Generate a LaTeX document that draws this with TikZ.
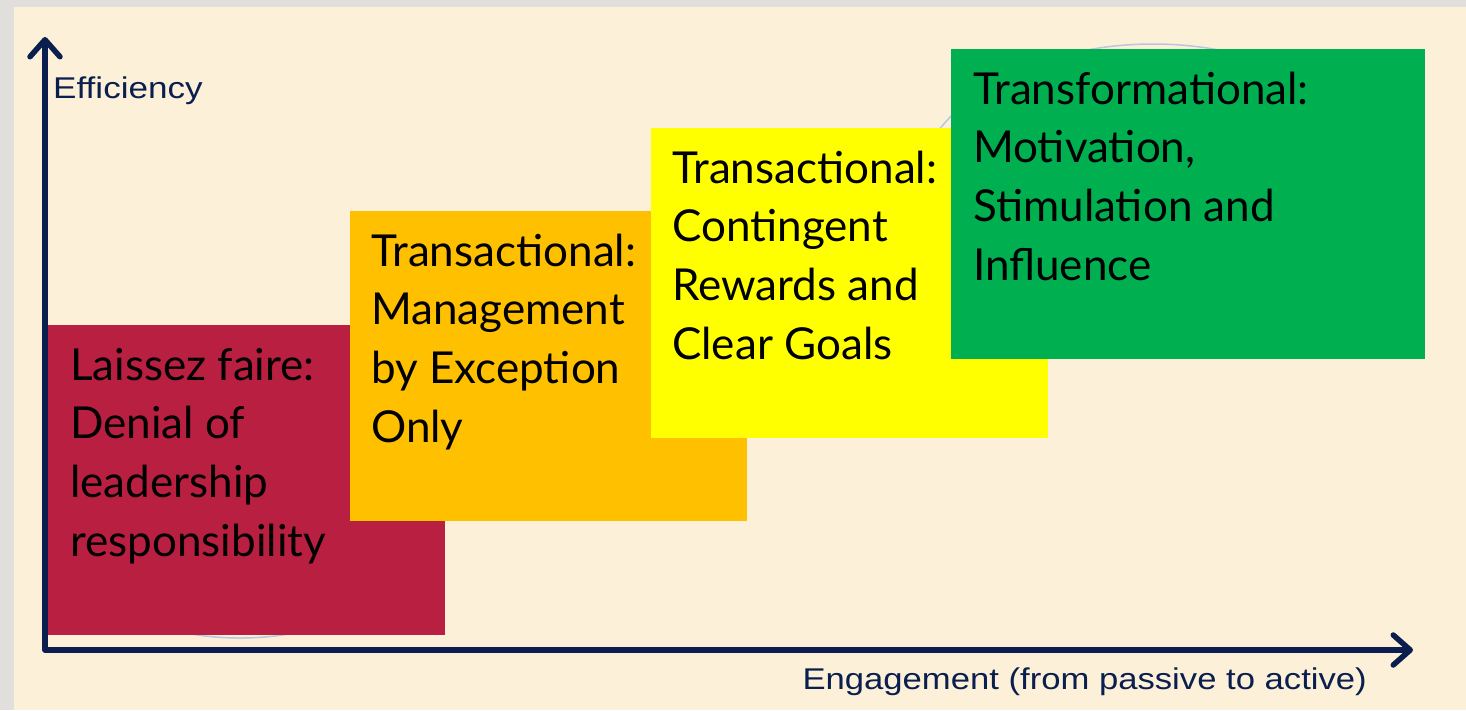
\documentclass[tikz,border=0pt]{standalone}
\usepackage{fontspec}
\setmainfont{Lato}
\newfontfamily\axisfont{Liberation Sans}
\usetikzlibrary{arrows.meta}
\definecolor{paper}{HTML}{FCF1D8}
\definecolor{frame}{HTML}{E0DFDC}
\definecolor{navy}{HTML}{0B1F4F}
\definecolor{lfred}{HTML}{B81F40}
\definecolor{mbeorange}{HTML}{FFC000}
\definecolor{cryellow}{HTML}{FFFF00}
\definecolor{tfgreen}{HTML}{00B050}
\definecolor{halo}{HTML}{B9C6E0}
\begin{document}
\begin{tikzpicture}[x=1pt,y=-1pt,
  axis/.style={draw=navy,line width=5.5pt,line join=round,
    {Straight Barb[length=17pt,width=30pt,line cap=round,line join=round]}-{Straight Barb[length=17pt,width=30pt,line cap=round,line join=round]}},
  axislabel/.style={font=\axisfont\fontsize{30}{34}\selectfont,text=navy,inner sep=0pt},
  stylebox/.style={rectangle,inner sep=0pt,outer sep=0pt,anchor=north west,
    minimum width=397pt,minimum height=310pt},
  boxtext/.style={inner sep=0pt,anchor=base west,text=black},
  halo/.style={draw=halo,line width=1.5pt}]
  % page and grey frame strips
  \fill[paper] (0,0) rectangle (1466,710);
  \fill[frame] (0,0) rectangle (14,710);
  \fill[frame] (0,0) rectangle (1466,7);
  \useasboundingbox (0,0) rectangle (1466,710);

  % faint ellipses lying under the boxes
  \draw[halo] (240,518) ellipse [x radius=190,y radius=120];
  \draw[halo] (1153,201) ellipse [x radius=240,y radius=157];

  % axes
  \coordinate (ytop) at (45,37);
  \coordinate (origin) at (45,650);
  \coordinate (xend) at (1413,650);
  \draw[axis] (ytop) -- (origin) -- (xend);
  \node[axislabel,anchor=base west] (ylab) at (53,98) {\scalebox{1.17}[1]{Efficiency}};
  \node[axislabel,anchor=base east] (xlab) at (1367,689) {\scalebox{1.155}[1]{Engagement (from passive to active)}};

  % leadership style boxes
  \node[stylebox,fill=lfred] (lf) at (48,325) {};
  \node[stylebox,fill=mbeorange] (mbe) at (350,211) {};
  \node[stylebox,fill=cryellow] (cr) at (651,128) {};
  \node[stylebox,fill=tfgreen,minimum width=474pt] (tf) at (951,49) {};

  \newcommand\boxlines[1]{\parbox[t]{460pt}{\fontsize{44}{58.7}\selectfont\raggedright #1}}
  \node[boxtext] (lft) at ([shift={(22,55)}]lf.north west)
    {\boxlines{Laissez faire:\\Denial of\\leadership\\responsibility}};
  \node[boxtext] (mbet) at ([shift={(21,55)}]mbe.north west)
    {\boxlines{Transactional:\\Management\\by Exception\\Only}};
  \node[boxtext] (crt) at ([shift={(21,55)}]cr.north west)
    {\boxlines{Transactional:\\Contingent\\Rewards and\\Clear Goals}};
  \node[boxtext] (tft) at ([shift={(22,55)}]tf.north west)
    {\boxlines{Transformational:\\Motivation,\\Stimulation and\\Influence}};
\end{tikzpicture}
\end{document}
